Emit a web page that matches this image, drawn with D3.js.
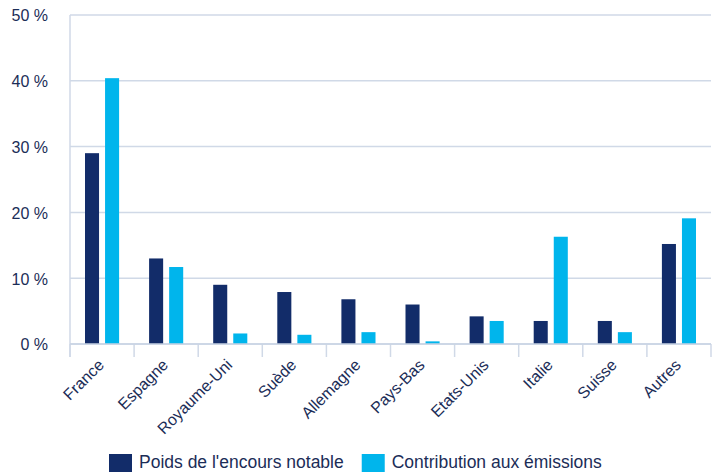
<!DOCTYPE html>
<html>
<head>
<meta charset="utf-8">
<script src="https://cdn.jsdelivr.net/npm/d3@7"></script>
<style>
  body { margin: 0; background: #fff; }
  text { font-family: "Liberation Sans", Arial, sans-serif; fill: #1b2d57; }
</style>
</head>
<body>
<div id="chart"></div>
<script>
// data
var countries = ["France", "Espagne", "Royaume-Uni", "Suède", "Allemagne",
                 "Pays-Bas", "Etats-Unis", "Italie", "Suisse", "Autres"];
var poidsEncours = [29.0, 13.0, 9.0, 7.9, 6.8, 6.0, 4.2, 3.5, 3.5, 15.2];
var contribEmissions = [40.4, 11.7, 1.6, 1.4, 1.8, 0.4, 3.5, 16.3, 1.8, 19.1];
var seriesNames = ["Poids de l'encours notable", "Contribution aux émissions"];
var yTicks = [0, 10, 20, 30, 40, 50];

var colors = ["#122c69", "#00b5ec"];

var width = 720, height = 472;
var margin = {top: 15, right: 9, bottom: 128, left: 70};

var svg = d3.select("#chart").append("svg")
    .attr("width", width)
    .attr("height", height);

var x0 = d3.scaleBand()
    .domain(countries)
    .range([margin.left, width - margin.right])
    .paddingInner(0);

var x1 = d3.scaleBand()
    .domain([0, 1])
    .range([15, x0.bandwidth() - 15])
    .paddingInner(0.3);

var y = d3.scaleLinear()
    .domain([0, 50])
    .range([height - margin.bottom, margin.top]);

// grid lines
svg.append("g")
    .selectAll("line")
    .data(yTicks)
    .enter().append("line")
    .attr("x1", margin.left)
    .attr("x2", width - margin.right)
    .attr("y1", function(d) { return y(d); })
    .attr("y2", function(d) { return y(d); })
    .style("stroke", "#d0d9e7")
    .style("stroke-width", 1.5);

// y axis labels
svg.append("g")
    .selectAll("text")
    .data(yTicks)
    .enter().append("text")
    .attr("x", 48)
    .attr("y", function(d) { return y(d); })
    .attr("dy", "0.4em")
    .style("text-anchor", "end")
    .style("font-size", "16px")
    .text(function(d) { return d + " %"; });

// left axis line
svg.append("line")
    .attr("x1", margin.left)
    .attr("x2", margin.left)
    .attr("y1", y(50))
    .attr("y2", y(0) + 13)
    .style("stroke", "#d0d9e7")
    .style("stroke-width", 1.5);

// category separators (ticks under the axis)
var bounds = countries.map(function(c) { return x0(c); });
bounds.push(x0.range()[1]);
svg.append("g")
    .selectAll("line")
    .data(bounds)
    .enter().append("line")
    .attr("x1", function(d) { return d; })
    .attr("x2", function(d) { return d; })
    .attr("y1", y(0))
    .attr("y2", y(0) + 13)
    .style("stroke", "#d0d9e7")
    .style("stroke-width", 1.5);

// bars
var groups = svg.append("g")
    .selectAll("g")
    .data(countries)
    .enter().append("g")
    .attr("transform", function(d) { return "translate(" + x0(d) + ",0)"; });

groups.selectAll("rect")
    .data(function(d, i) { return [poidsEncours[i], contribEmissions[i]]; })
    .enter().append("rect")
    .attr("x", function(d, j) { return x1(j); })
    .attr("width", x1.bandwidth())
    .attr("y", function(d) { return y(d); })
    .attr("height", function(d) { return y(0) - y(d); })
    .style("fill", function(d, j) { return colors[j]; });

// bottom axis line over the bars
svg.append("line")
    .attr("x1", margin.left)
    .attr("x2", width - margin.right)
    .attr("y1", y(0))
    .attr("y2", y(0))
    .style("stroke", "#c9d3e3")
    .style("stroke-width", 1.5);

// x labels
svg.append("g")
    .selectAll("text")
    .data(countries)
    .enter().append("text")
    .attr("transform", function(d) {
        return "translate(" + (x0(d) + x0.bandwidth() / 2 + 3) + "," + (y(0) + 22) + ") rotate(-45)";
    })
    .style("text-anchor", "end")
    .style("font-size", "16px")
    .text(function(d) { return d; });

// legend
var legend = svg.append("g");
var lx = 109;
seriesNames.forEach(function(name, i) {
    legend.append("rect")
        .attr("x", lx)
        .attr("y", 454)
        .attr("width", 23)
        .attr("height", 18)
        .style("fill", colors[i]);
    var t = legend.append("text")
        .attr("x", lx + 30)
        .attr("y", 468)
        .style("font-size", "17.5px")
        .text(name);
    lx += 30 + t.node().getComputedTextLength() + 18;
});
</script>
</body>
</html>
